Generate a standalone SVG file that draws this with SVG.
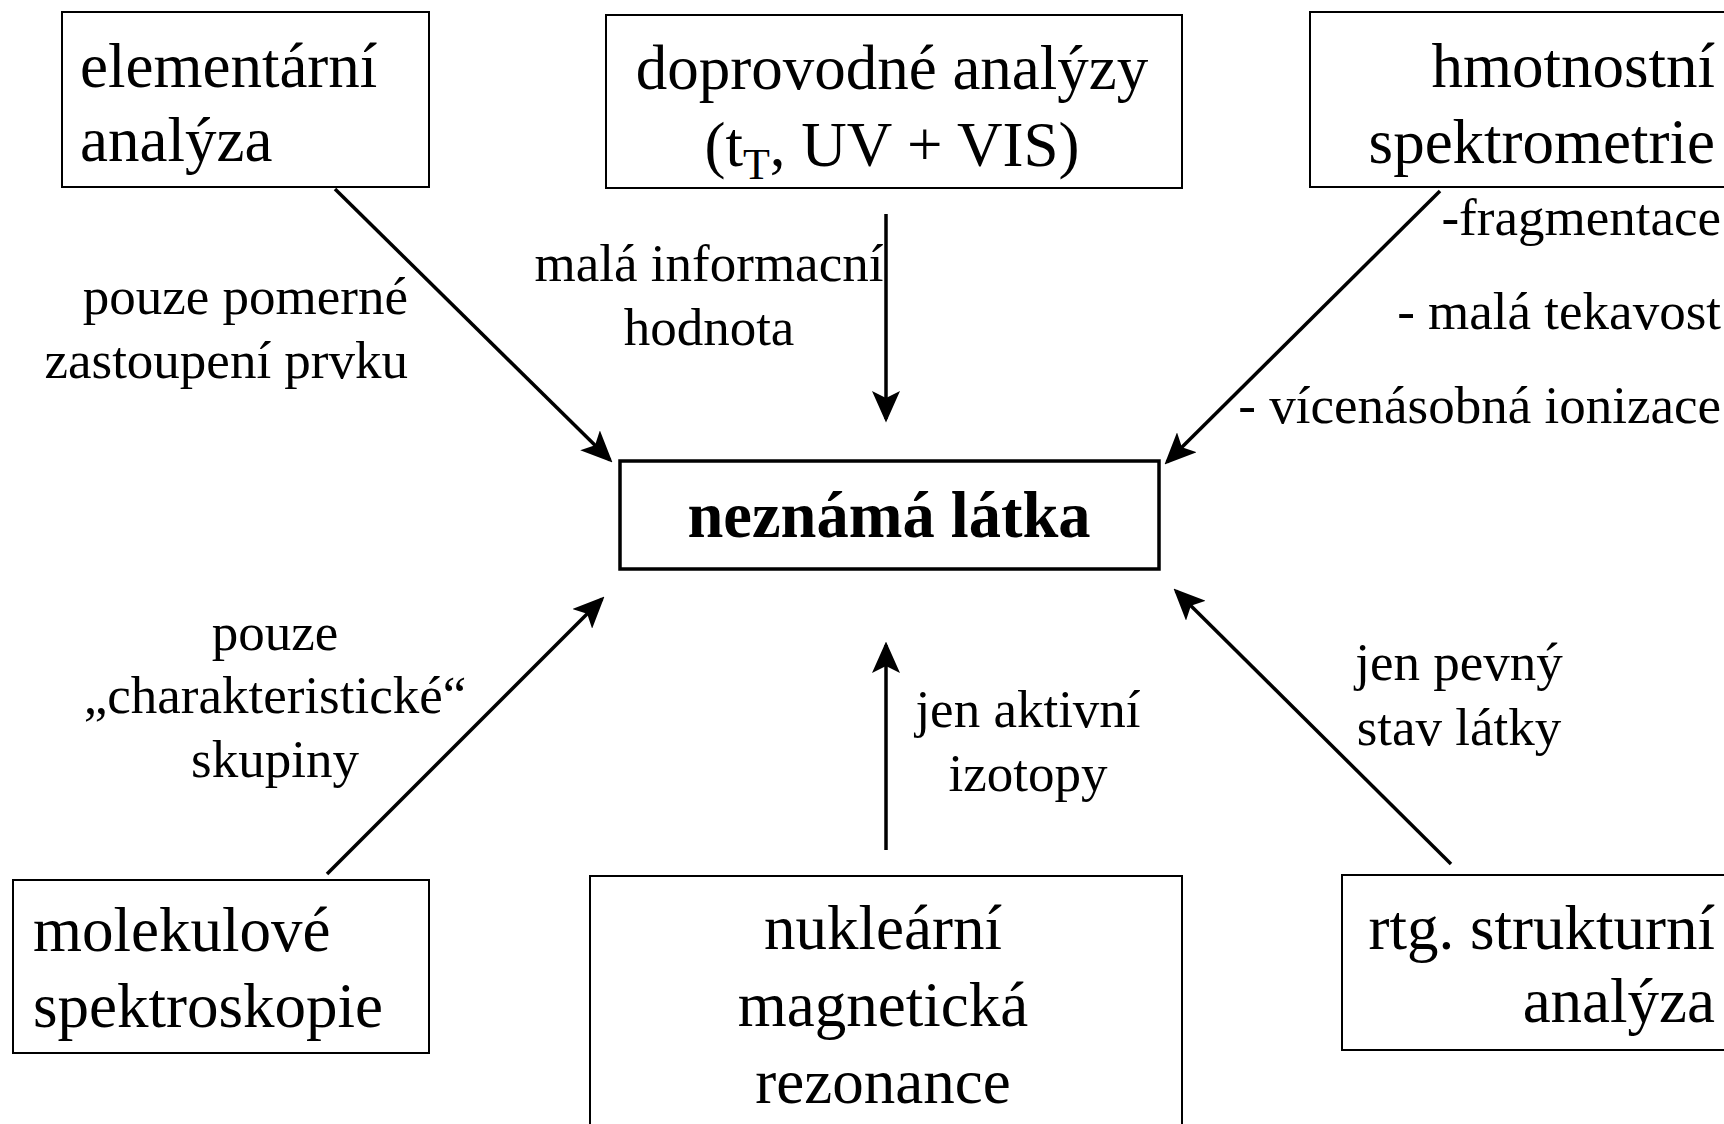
<svg xmlns="http://www.w3.org/2000/svg" width="1724" height="1124" viewBox="0 0 1724 1124">
<style>
.box{fill:#fff;stroke:#000;stroke-width:2}
.main{fill:#fff;stroke:#000;stroke-width:3.5}
.t{font-family:"Liberation Serif","Times New Roman",serif;font-size:63px;fill:#000}
.b{font-weight:bold;font-size:64.5px}
.l{font-family:"Liberation Serif","Times New Roman",serif;font-size:53px;fill:#000}
.c{stroke:#000;stroke-width:3.5;fill:none;marker-end:url(#ah)}
</style>
<defs>
<marker id="ah" markerWidth="9" markerHeight="8" refX="8" refY="4" orient="auto" markerUnits="strokeWidth">
<path d="M0,0 L9,4 L0,8 L2,4 Z" fill="#000"/>
</marker>
</defs>
<rect width="1724" height="1124" fill="#fff"/>
<g id="connectors">
<line class="c" x1="335" y1="189" x2="610" y2="460"/>
<line class="c" x1="886" y1="214" x2="886" y2="419"/>
<line class="c" x1="1440" y1="191" x2="1167" y2="462"/>
<line class="c" x1="327" y1="874" x2="602" y2="599"/>
<line class="c" x1="886" y1="850" x2="886" y2="645"/>
<line class="c" x1="1451" y1="864" x2="1176" y2="591"/>
</g>
<g id="labels">
<text class="l" text-anchor="end"><tspan x="408" y="314">pouze pomerné</tspan><tspan x="408" y="378">zastoupení prvku</tspan></text>
<text class="l" text-anchor="middle"><tspan x="709" y="281">malá informacní</tspan><tspan x="709" y="345">hodnota</tspan></text>
<text class="l" text-anchor="end"><tspan x="1721" y="235">-fragmentace</tspan><tspan x="1721" y="329">- malá tekavost</tspan><tspan x="1721" y="423">- vícenásobná ionizace</tspan></text>
<text class="l" text-anchor="middle"><tspan x="275" y="650">pouze</tspan><tspan x="275" y="713">„charakteristické“</tspan><tspan x="275" y="777">skupiny</tspan></text>
<text class="l" text-anchor="middle"><tspan x="1028" y="727">jen aktivní</tspan><tspan x="1028" y="791">izotopy</tspan></text>
<text class="l" text-anchor="middle"><tspan x="1459" y="680">jen pevný</tspan><tspan x="1459" y="745">stav látky</tspan></text>
</g>
<g id="node-elementarni">
<rect class="box" x="62" y="12" width="367" height="175"/>
<text class="t"><tspan x="80" y="87">elementární</tspan><tspan x="80" y="161">analýza</tspan></text>
</g>
<g id="node-doprovodne">
<rect class="box" x="606" y="15" width="576" height="173"/>
<text class="t" text-anchor="middle"><tspan x="892" y="89">doprovodné analýzy</tspan><tspan x="892" y="166">(t<tspan font-size="44" dy="13">T</tspan><tspan dy="-13">, UV + VIS)</tspan></tspan></text>
</g>
<g id="node-hmotnostni">
<rect class="box" x="1310" y="12" width="430" height="175"/>
<text class="t" text-anchor="end"><tspan x="1715" y="87">hmotnostní</tspan><tspan x="1715" y="163">spektrometrie</tspan></text>
</g>
<g id="node-neznama">
<rect class="main" x="620" y="461" width="539" height="108"/>
<text class="t b" text-anchor="middle" x="889" y="537">neznámá látka</text>
</g>
<g id="node-molekulove">
<rect class="box" x="13" y="880" width="416" height="173"/>
<text class="t"><tspan x="33" y="951">molekulové</tspan><tspan x="33" y="1027">spektroskopie</tspan></text>
</g>
<g id="node-nmr">
<rect class="box" x="590" y="876" width="592" height="270"/>
<text class="t" text-anchor="middle"><tspan x="883" y="949">nukleární</tspan><tspan x="883" y="1026">magnetická</tspan><tspan x="883" y="1103">rezonance</tspan></text>
</g>
<g id="node-rtg">
<rect class="box" x="1342" y="875" width="400" height="175"/>
<text class="t" text-anchor="end"><tspan x="1715" y="949">rtg. strukturní</tspan><tspan x="1715" y="1022">analýza</tspan></text>
</g>
</svg>
